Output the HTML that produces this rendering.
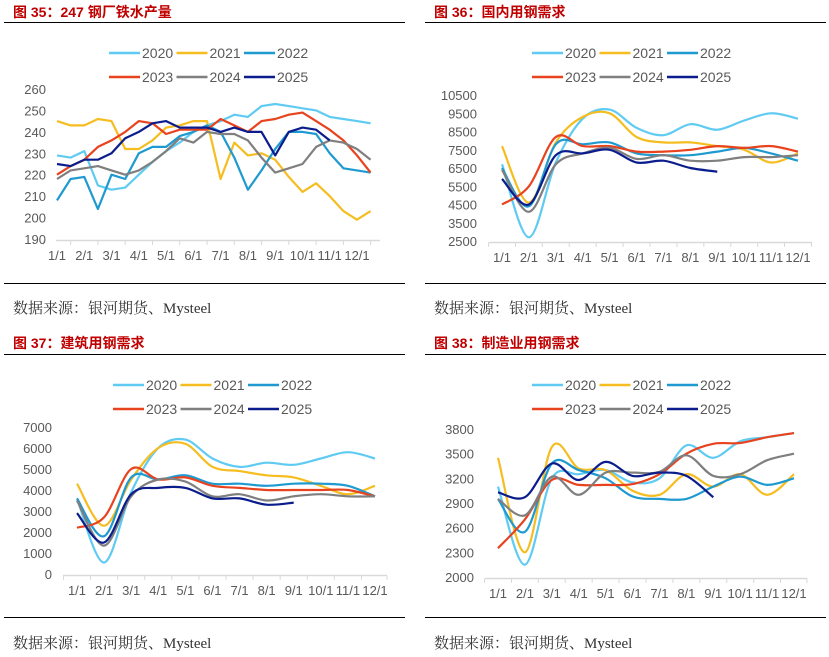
<!DOCTYPE html>
<html><head><meta charset="utf-8">
<style>
body{margin:0;background:#fff;width:829px;height:657px;overflow:hidden;font-family:"Liberation Sans","Noto Sans CJK SC",sans-serif;}
svg{position:absolute;left:0;top:0}
</style></head>
<body>
<svg id="cv" width="829" height="657">
<g stroke="#000" stroke-width="1">
<line x1="4" y1="22.5" x2="405" y2="22.5"/><line x1="4" y1="283.5" x2="405" y2="283.5"/>
<line x1="425" y1="22.5" x2="826" y2="22.5"/><line x1="425" y1="283.5" x2="826" y2="283.5"/>
<line x1="4" y1="354.5" x2="405" y2="354.5"/><line x1="4" y1="617.5" x2="405" y2="617.5"/>
<line x1="425" y1="354.5" x2="826" y2="354.5"/><line x1="425" y1="617.5" x2="826" y2="617.5"/>
</g>
<g font-weight="bold" font-size="14" fill="#C00000" font-family="'Liberation Sans','Noto Sans CJK SC',sans-serif">
<text x="13" y="17">图 35：247 钢厂铁水产量</text>
<text x="434" y="17">图 36：国内用钢需求</text>
<text x="13" y="348">图 37：建筑用钢需求</text>
<text x="434" y="348">图 38：制造业用钢需求</text>
</g>
<g font-size="15" fill="#333" font-family="'Liberation Serif','Noto Serif CJK SC',serif">
<text x="13" y="313">数据来源：银河期货、Mysteel</text>
<text x="434" y="313">数据来源：银河期货、Mysteel</text>
<text x="13" y="648">数据来源：银河期货、Mysteel</text>
<text x="434" y="648">数据来源：银河期货、Mysteel</text>
</g>
</svg>
<script>
const years = ["2020","2021","2022","2023","2024","2025"];
const months = ["1/1","2/1","3/1","4/1","5/1","6/1","7/1","8/1","9/1","10/1","11/1","12/1"];
// Fig 35 (half-month steps)
const iron2020 = [229,228,231,215,213,214,220,226,231,235,240,243,245,248,247,252,253,252,251,250,247,246,245,244];
const iron2021 = [245,243,243,246,245,232,232,236,242,243,245,245,218,235,229,230,227,219,212,216,210,203,199,203];
const iron2022 = [208,218,219,204,220,218,230,233,233,238,240,243,240,228,213,222,232,240,240,239,230,223,222,221];
const iron2023 = [220,224,227,233,236,240,245,244,239,241,241,241,246,243,240,245,246,248,249,245,241,236,229,221];
const iron2024 = [218,222,223,224,222,220,222,226,231,237,235,240,239,239,236,228,221,223,225,233,236,235,232,227];
const iron2025 = [225,224,227,227,230,237,240,244,245,242,242,242,240,242,240,240,229,240,242,241,236];
const ironTicks = [260,250,240,230,220,210,200,190];
// Fig 36
const dom2020 = [6700,2700,6800,9200,9700,8700,8300,8900,8600,9100,9500,9200];
const dom2021 = [7700,4600,7900,9300,9500,8200,7900,7900,7700,7500,6800,7300];
const dom2022 = [6500,4400,7800,7800,7900,7300,7200,7200,7400,7600,7300,6900];
const dom2023 = [4500,5500,8200,7700,7700,7400,7400,7500,7700,7600,7700,7400];
const dom2024 = [6400,4100,6700,7300,7600,7000,7200,6900,6900,7100,7100,7200];
const dom2025 = [5900,4500,7200,7300,7500,6800,6900,6500,6300];
const domTicks = [10500,9500,8500,7500,6500,5500,4500,3500,2500];
// Fig 37
const con2020 = [3600,550,3900,6000,6400,5500,5100,5300,5200,5500,5800,5500];
const con2021 = [4300,2300,4500,6000,6200,5100,4900,4700,4600,4200,3800,4200];
const con2022 = [3600,1800,4600,4500,4700,4300,4300,4200,4300,4300,4200,3700];
const con2023 = [2200,2700,5000,4500,4600,4200,4100,4000,4000,4000,4000,3700];
const con2024 = [3500,1350,3700,4500,4400,3700,3800,3500,3700,3800,3700,3700];
const con2025 = [2900,1500,3800,4100,4100,3600,3600,3300,3400];
const conTicks = [7000,6000,5000,4000,3000,2000,1000,0];
// Fig 38
const man2020 = [3100,2150,3200,3250,3300,3150,3200,3600,3450,3650,3700,3750];
const man2021 = [3450,2300,3580,3320,3300,3050,3000,3250,3100,3250,3000,3250];
const man2022 = [2950,2550,3380,3300,3200,2980,2950,2950,3100,3220,3120,3200];
const man2023 = [2350,2700,3180,3120,3120,3130,3250,3500,3620,3630,3700,3750];
const man2024 = [2950,2750,3220,3000,3270,3270,3280,3480,3230,3250,3420,3500];
const man2025 = [3030,2970,3380,3180,3400,3230,3270,3230,2970];
const manTicks = [3800,3500,3200,2900,2600,2300,2000];

const colors = ["#5FCBF3","#F5BD1F","#1E9AD0","#E8431E","#7F7F7F","#0B1D8C"];
const NS = "http://www.w3.org/2000/svg";
const svg = document.getElementById("cv");
function mk(tag, attrs, parent){const e=document.createElementNS(NS,tag);for(const k in attrs)e.setAttribute(k,attrs[k]);(parent||svg).appendChild(e);return e;}

function smoothPath(pts){
  let d="M"+pts[0][0].toFixed(1)+","+pts[0][1].toFixed(1);
  for(let i=0;i<pts.length-1;i++){
    const p0=pts[i-1]||pts[i],p1=pts[i],p2=pts[i+1],p3=pts[i+2]||p2;
    const c1=[p1[0]+(p2[0]-p0[0])/6,p1[1]+(p2[1]-p0[1])/6];
    const c2=[p2[0]-(p3[0]-p1[0])/6,p2[1]-(p3[1]-p1[1])/6];
    d+=" C"+c1.map(v=>v.toFixed(1)).join(",")+" "+c2.map(v=>v.toFixed(1)).join(",")+" "+p2[0].toFixed(1)+","+p2[1].toFixed(1);
  }
  return d;
}

function drawChart(c){
  const g=mk("g",{});
  
  
  const tMax=c.ticks[0],tMin=c.ticks[c.ticks.length-1];
  const y=v=>c.yTop+(tMax-v)/(tMax-tMin)*(c.yBot-c.yTop);
  const sp=(c.x12-c.x1)/11;
  const x=m=>c.x1+m*sp;
  // axis
  const ax=mk("line",{x1:c.axL,x2:c.axR,y1:c.yBot+1.5,y2:c.yBot+1.5,stroke:"#D9D9D9","stroke-width":1.5},g);
  
  
  for(let i=0;i<=12;i++){
    const tx=Math.min(c.axR,c.x1+(i-0.5)*sp);
    const tk=mk("line",{x1:tx,x2:tx,y1:c.yBot+1.5,y2:c.yBot+6,stroke:"#D9D9D9","stroke-width":1},g);
    
    
  }
  months.forEach((m,i)=>{
    const t=mk("text",{x:x(i),y:c.yBot+21,"text-anchor":"middle","font-size":13,fill:"#595959"},g);
    t.textContent=m;
    
    
  });
  c.ticks.forEach(v=>{
    const t=mk("text",{x:c.yLab,y:y(v)+5,"text-anchor":"end","font-size":13,fill:"#595959"},g);
    t.textContent=v;
    
    
  });
  // legend
  years.forEach((yr,i)=>{
    const lx=c.legX+(i%3)*67.5, ly=c.legY+Math.floor(i/3)*24;
    const lg=mk("g",{},g);
    
    
    mk("line",{x1:lx,x2:lx+31,y1:ly,y2:ly,stroke:colors[i],"stroke-width":2.5},lg);
    const t=mk("text",{x:lx+33,y:ly+5,"font-size":14,fill:"#595959"},lg);
    t.textContent=yr;
  });
  // series
  c.series.forEach((s,i)=>{
    const pts=s.map((v,k)=>[x(k*c.step),y(v)]);
    const d=c.smooth?smoothPath(pts):"M"+pts.map(p=>p[0].toFixed(1)+","+p[1].toFixed(1)).join(" L");
    const p=mk("path",{d:d,fill:"none",stroke:colors[i],"stroke-width":2.2,"stroke-linejoin":"round"},g);
    
    
  });
}

drawChart({name:"chart-fig35",ticks:ironTicks,yTop:89,yBot:239,x1:57,x12:357,axL:56,axR:380,yLab:46,legX:109,legY:53,step:0.5,smooth:false,
  series:[iron2020,iron2021,iron2022,iron2023,iron2024,iron2025]});
drawChart({name:"chart-fig36",ticks:domTicks,yTop:95,yBot:241,x1:502,x12:798,axL:489,axR:812,yLab:477,legX:532,legY:53,step:1,smooth:true,
  series:[dom2020,dom2021,dom2022,dom2023,dom2024,dom2025]});
drawChart({name:"chart-fig37",ticks:conTicks,yTop:427,yBot:574,x1:77,x12:375,axL:63,axR:387,yLab:52,legX:113,legY:385,step:1,smooth:true,
  series:[con2020,con2021,con2022,con2023,con2024,con2025]});
drawChart({name:"chart-fig38",ticks:manTicks,yTop:429,yBot:577,x1:498,x12:794,axL:485,axR:807,yLab:474,legX:532,legY:385,step:1,smooth:true,
  series:[man2020,man2021,man2022,man2023,man2024,man2025]});
</script>
</body></html>
